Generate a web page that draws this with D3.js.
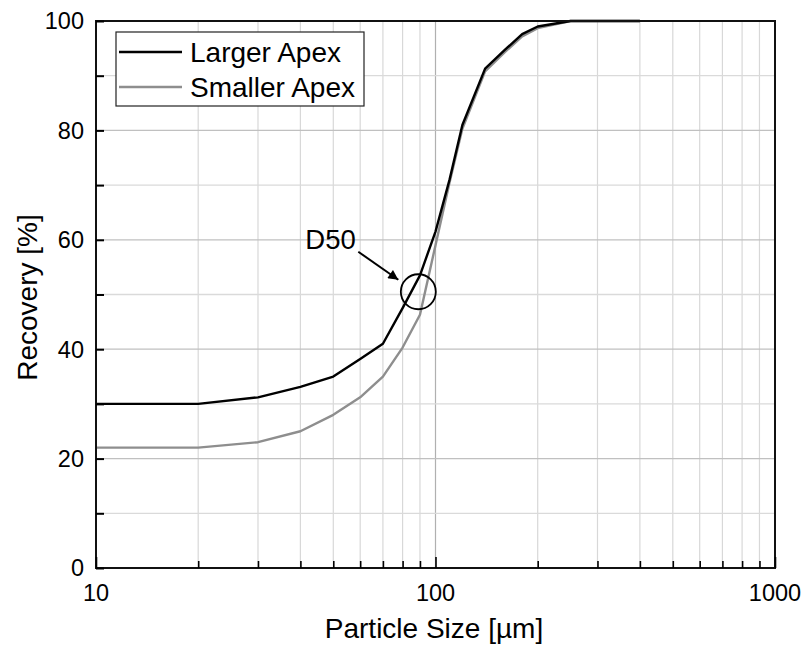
<!DOCTYPE html>
<html>
<head>
<meta charset="utf-8">
<script src="https://cdn.jsdelivr.net/npm/d3@7"></script>
<style>
  html, body { margin: 0; padding: 0; background: #fff; }
  svg { display: block; }
  text { font-family: "Liberation Sans", Arial, sans-serif; fill: #000; }
</style>
</head>
<body>
<svg id="chart" width="801" height="648"></svg>
<script>
// ---- data ----
const sizes = [10, 20, 30, 40, 50, 60, 70, 80, 90, 100, 110, 120, 140, 160, 180, 200, 250, 300, 400];
const largerApex = [30, 30, 31.2, 33.1, 35, 38.2, 41, 47.5, 53.5, 61.5, 71, 81, 91.3, 94.7, 97.6, 99, 100, 100, 100];
const smallerApex = [22, 22, 23, 25, 28, 31.2, 35, 40.3, 46.3, 59, 70.5, 80.3, 90.8, 94.3, 97.2, 98.7, 100, 100, 100];
const seriesNames = ["Larger Apex", "Smaller Apex"];
const xTickLabels = [10, 100, 1000];
const yTickLabels = [0, 20, 40, 60, 80, 100];
const d50Point = [89, 50.5];

// ---- layout ----
const svg = d3.select("#chart");
const L = 96, R = 775, T = 21, B = 568;
const x = d3.scaleLog().domain([10, 1000]).range([L, R]);
const y = d3.scaleLinear().domain([0, 100]).range([B, T]);

const minorX = [];
for (let d = 10; d < 1000; d *= 10) for (let k = 1; k < 10; k++) minorX.push(d * k);
minorX.push(1000);
const minorY = d3.range(0, 101, 10);

// grid
const g = svg.append("g");
g.selectAll(".gx").data(minorX.filter(v => v > 10 && v < 1000)).join("line")
  .attr("x1", d => x(d)).attr("x2", d => x(d)).attr("y1", T).attr("y2", B)
  .attr("stroke", d => xTickLabels.includes(d) ? "#b0b0b0" : "#d8d8d8").attr("stroke-width", 1.2);
g.selectAll(".gy").data(minorY.filter(v => v > 0 && v < 100)).join("line")
  .attr("x1", L).attr("x2", R).attr("y1", d => y(d)).attr("y2", d => y(d))
  .attr("stroke", d => yTickLabels.includes(d) ? "#c0c0c0" : "#dadada").attr("stroke-width", 1.3);

// curves
const line = d3.line().x(d => x(d[0])).y(d => y(d[1]));
svg.append("path").datum(sizes.map((s, i) => [s, smallerApex[i]]))
  .attr("d", line).attr("fill", "none").attr("stroke", "#8e8e8e").attr("stroke-width", 2.4).attr("stroke-linejoin", "round");
svg.append("path").datum(sizes.map((s, i) => [s, largerApex[i]]))
  .attr("d", line).attr("fill", "none").attr("stroke", "#000").attr("stroke-width", 2.4).attr("stroke-linejoin", "round");

// frame
svg.append("rect").attr("x", L).attr("y", T).attr("width", R - L).attr("height", B - T)
  .attr("fill", "none").attr("stroke", "#111").attr("stroke-width", 2);

// axes (ticks inward)
const yAxis = d3.axisRight(y).tickValues(minorY).tickSize(8).tickFormat("");
svg.append("g").attr("transform", `translate(${L},0)`).call(yAxis)
  .call(s => s.select(".domain").remove())
  .call(s => s.selectAll("line").attr("stroke", "#000").attr("stroke-width", 2));
const xAxis = d3.axisTop(x).tickValues(minorX).tickSize(7).tickFormat("");
svg.append("g").attr("transform", `translate(0,${B})`).call(xAxis)
  .call(s => s.select(".domain").remove())
  .call(s => s.selectAll("line").attr("stroke", "#000").attr("stroke-width", 1.6)
    .attr("y2", d => xTickLabels.includes(d) ? -11 : -7));

// tick labels
svg.append("g").selectAll("text").data(yTickLabels).join("text")
  .attr("x", L - 12).attr("y", d => y(d)).attr("dy", "0.36em")
  .attr("text-anchor", "end").attr("font-size", 23.5).text(d => d);
svg.append("g").selectAll("text").data(xTickLabels).join("text")
  .attr("x", d => x(d)).attr("y", B + 33)
  .attr("text-anchor", "middle").attr("font-size", 23.5).text(d => d);

// axis titles
svg.append("text").attr("x", 434).attr("y", 638).attr("text-anchor", "middle")
  .attr("font-size", 28).text("Particle Size [µm]");
svg.append("text").attr("transform", `translate(37,${(T + B) / 2 + 3}) rotate(-90)`)
  .attr("text-anchor", "middle").attr("font-size", 28).text("Recovery [%]");

// legend
const lg = svg.append("g");
lg.append("rect").attr("x", 116).attr("y", 32).attr("width", 248).attr("height", 74)
  .attr("fill", "#fff").attr("stroke", "#222").attr("stroke-width", 1.2);
const colors = ["#000", "#8e8e8e"];
seriesNames.forEach((n, i) => {
  const cy = 52 + i * 35;
  lg.append("line").attr("x1", 119).attr("x2", 182).attr("y1", cy).attr("y2", cy)
    .attr("stroke", colors[i]).attr("stroke-width", 2.4);
  lg.append("text").attr("x", 190).attr("y", cy).attr("dy", "0.36em")
    .attr("font-size", 28).text(n);
});

// D50 annotation
const cx = x(d50Point[0]), cy = y(d50Point[1]);
svg.append("circle").attr("cx", cx).attr("cy", cy).attr("r", 17.5)
  .attr("fill", "none").attr("stroke", "#000").attr("stroke-width", 1.8);
svg.append("defs").append("marker").attr("id", "ah").attr("viewBox", "0 0 10 10")
  .attr("refX", 10).attr("refY", 5).attr("markerWidth", 6).attr("markerHeight", 5)
  .attr("markerUnits", "strokeWidth").attr("orient", "auto")
  .append("path").attr("d", "M0,0 L10,5 L0,10 Z").attr("fill", "#000");
svg.append("line").attr("x1", cx - 60).attr("y1", cy - 40).attr("x2", cx - 20).attr("y2", cy - 12)
  .attr("stroke", "#000").attr("stroke-width", 2).attr("marker-end", "url(#ah)");
svg.append("text").attr("x", cx - 113).attr("y", cy - 43).attr("font-size", 27.5).text("D50");
</script>
</body>
</html>
